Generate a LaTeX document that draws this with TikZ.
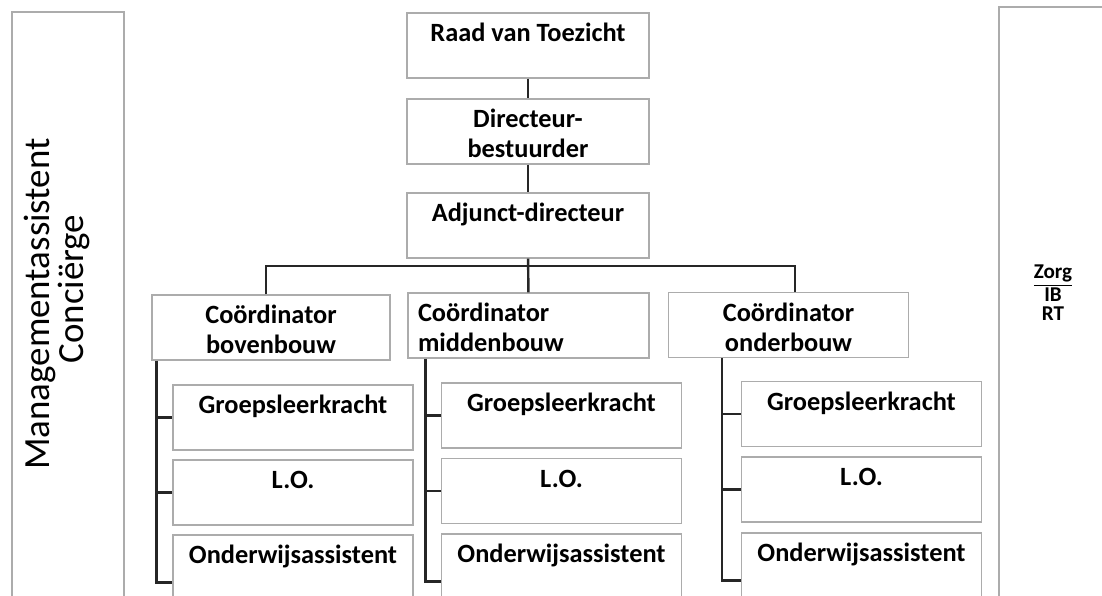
\documentclass[tikz,border=0pt]{standalone}
\usepackage{fontspec}
\setmainfont{Carlito}
\newcommand\boxtop{\rule{0pt}{16.2pt}}
\newcommand\boxbot{\rule[-3.6pt]{0pt}{3.6pt}}
\begin{document}
\begin{tikzpicture}[x=0.02cm, y=-0.02cm,
    box/.style={draw=gray!65, line width=0.7pt, align=center, inner sep=0pt,
        minimum width=4.8cm, minimum height=1.3cm, font=\bfseries\fontsize{15}{17}\selectfont},
    tallbox/.style={box, minimum height=1.9cm},
    link/.style={line width=1.4pt, black!85}]
\clip (0,0) rectangle (1102,595);

% staff and care columns
\draw[gray!65, line width=0.7pt] (12,12) rectangle (124,640);
\node[rotate=90, align=center, font=\fontsize{21}{17}\selectfont] (staf) at (57,304) {Managementassistent\\\hspace*{17pt}Conciërge};
\draw[gray!65, line width=0.7pt] (999,7) rectangle (1140,640);
\node[align=center, font=\bfseries\fontsize{12}{11}\selectfont] (zorg) at (1053,293) {\underline{Zorg}\\IB\\RT};

% top of the school
\node[box, minimum width=4.84cm] (raad) at (528,45.5) {\boxtop Raad van Toezicht\\ \boxbot};
\node[box, minimum width=4.84cm] (dir) at (528,131.5) {\boxtop Directeur-\\bestuurder\boxbot};
\node[box, minimum width=4.84cm] (adj) at (528,225.5) {\boxtop Adjunct-directeur\\ \boxbot};

% coordinators
\node[box, minimum width=4.76cm] (cbov) at (271,327.5) {\boxtop Coördinator\\bovenbouw\boxbot};
\node[box, text width=4.42cm, inner xsep=0.2cm, align=left] (cmid) at (528.5,325.5) {\boxtop Coördinator\\middenbouw\boxbot};
\node[box] (cond) at (788.5,325) {\boxtop Coördinator\\onderbouw\boxbot};

% bovenbouw
\node[box] (bov1) at (293,417.5) {\boxtop Groepsleerkracht\\ \boxbot};
\node[box] (bov2) at (293,492.5) {\boxtop L.O.\\ \boxbot};
\node[tallbox] (bov3) at (293,582.5) {\boxtop Onderwijsassistent\\ \mbox{}\\ \boxbot};

% middenbouw
\node[box] (mid1) at (561.5,415.5) {\boxtop Groepsleerkracht\\ \boxbot};
\node[box] (mid2) at (561.5,491) {\boxtop L.O.\\ \boxbot};
\node[tallbox] (mid3) at (561.5,581.5) {\boxtop Onderwijsassistent\\ \mbox{}\\ \boxbot};

% onderbouw
\node[box] (ond1) at (861.5,414) {\boxtop Groepsleerkracht\\ \boxbot};
\node[box] (ond2) at (861.5,489.5) {\boxtop L.O.\\ \boxbot};
\node[tallbox] (ond3) at (861.5,580.5) {\boxtop Onderwijsassistent\\ \mbox{}\\ \boxbot};

% lines
\coordinate (bar) at (0,266);
\draw[link] (raad) -- (dir);
\draw[link] (dir) -- (adj);
\draw[link] (adj) -- (cmid);
\draw[link] ([xshift=-0.1cm]cbov.north) -- ([xshift=-0.1cm]cbov.north |- bar) -- ([xshift=0.13cm]cond.north |- bar) -- ([xshift=0.13cm]cond.north);

\draw[link] ([xshift=0.1cm]cbov.south west) |- (bov3.west);
\draw[link] ([xshift=0.1cm]cbov.south west |- bov1.west) -- (bov1.west);
\draw[link] ([xshift=0.1cm]cbov.south west |- bov2.west) -- (bov2.west);

\draw[link] ([xshift=0.36cm]cmid.south west) |- (mid3.west);
\draw[link] ([xshift=0.36cm]cmid.south west |- mid1.west) -- (mid1.west);
\draw[link] ([xshift=0.36cm]cmid.south west |- mid2.west) -- (mid2.west);

\draw[link] ([xshift=1.08cm]cond.south west) |- (ond3.west);
\draw[link] ([xshift=1.08cm]cond.south west |- ond1.west) -- (ond1.west);
\draw[link] ([xshift=1.08cm]cond.south west |- ond2.west) -- (ond2.west);
\end{tikzpicture}
\end{document}
